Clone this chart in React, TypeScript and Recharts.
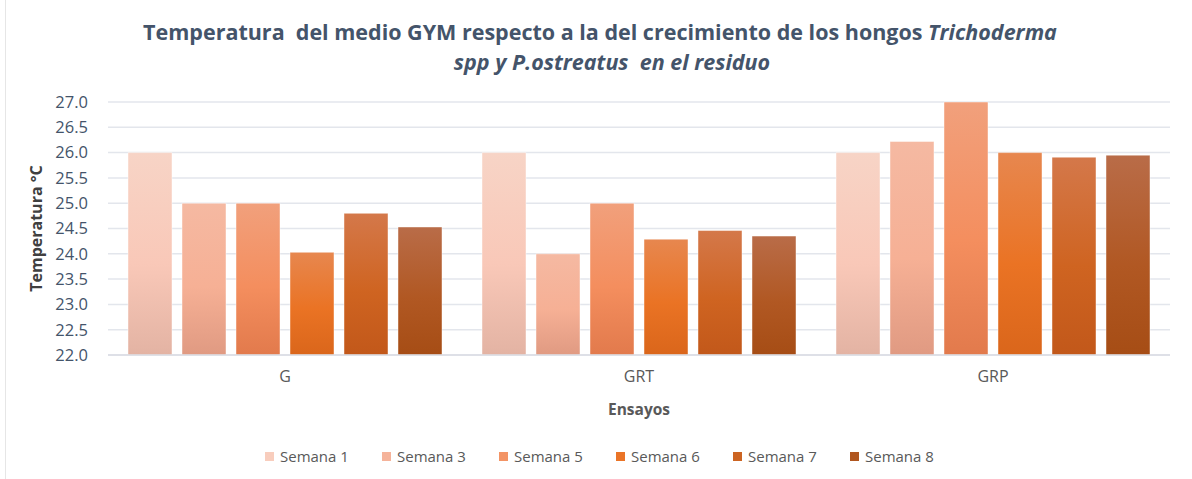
import React from 'react';
import { BarChart, Bar, XAxis, YAxis, CartesianGrid, Legend } from 'recharts';

const categories = ['G', 'GRT', 'GRP'];
const seriesNames = ['Semana 1', 'Semana 3', 'Semana 5', 'Semana 6', 'Semana 7', 'Semana 8'];
const semana1 = [26.0, 26.0, 26.0];
const semana3 = [25.0, 24.0, 26.22];
const semana5 = [25.0, 25.0, 27.0];
const semana6 = [24.03, 24.29, 26.0];
const semana7 = [24.8, 24.46, 25.91];
const semana8 = [24.53, 24.35, 25.95];
const yTicks = [22.0, 22.5, 23.0, 23.5, 24.0, 24.5, 25.0, 25.5, 26.0, 26.5, 27.0];

const seriesValues = [semana1, semana3, semana5, semana6, semana7, semana8];
const keys = ['s1', 's3', 's5', 's6', 's7', 's8'];

// gradient colours: top, middle, bottom
const gradients = [
  ['#F7D4C6', '#F9C8B8', '#E3B3A3'],
  ['#F5B9A2', '#F6B095', '#E09A82'],
  ['#F1A07C', '#F48E5E', '#E27A4C'],
  ['#E7874F', '#EA7324', '#DA661B'],
  ['#D4784A', '#CF6421', '#C2581A'],
  ['#B96C48', '#B15823', '#A64D15'],
];
const legendColors = ['#F8CDBD', '#F5B39A', '#F39465', '#EA7427', '#CC6422', '#B0561F'];

const data = categories.map((c, i) => {
  const row: any = { cat: c };
  keys.forEach((k, j) => { row[k] = seriesValues[j][i]; });
  return row;
});

const FONT = '"Open Sans", Roboto, sans-serif';

const renderLegend = () => (
  <div style={{ display: 'flex', justifyContent: 'flex-start', alignItems: 'center', height: 24, paddingLeft: 265, fontFamily: FONT, fontSize: 15, color: '#595959' }}>
    {seriesNames.map((n, i) => (
      <div key={n} style={{ display: 'flex', alignItems: 'center', width: 117, flex: 'none' }}>
        <span style={{ display: 'inline-block', width: 9, height: 9, background: legendColors[i], marginRight: 6 }} />
        <span style={{ whiteSpace: 'nowrap' }}>{n}</span>
      </div>
    ))}
  </div>
);

export default function App() {
  return (
    <div style={{ position: 'absolute', left: 0, top: 0, width: 1192, height: 479, background: '#fff', fontFamily: FONT }}>
      <div style={{ position: 'absolute', left: 5, top: 0, width: 1, height: 479, background: '#E6E6E6' }} />
      <div style={{ position: 'absolute', left: 0, top: 17, width: 1200, textAlign: 'center', fontFamily: FONT, fontWeight: 700, fontSize: 21.5, color: '#44546A', lineHeight: '30px', whiteSpace: 'nowrap' }}>
        <div>Temperatura&nbsp; del medio GYM respecto a la del crecimiento de los hongos <i>Trichoderma</i></div>
        <div style={{ paddingLeft: 24 }}><i>spp y P.ostreatus&nbsp; en el residuo</i></div>
      </div>
      <BarChart
        width={1192}
        height={479}
        data={data}
        margin={{ top: 102, right: 22, bottom: 40, left: 0 }}
        barCategoryGap={20}
        barGap={10}
        style={{ position: 'absolute', left: 0, top: 0 }}
      >
        <defs>
          {gradients.map((g, i) => (
            <linearGradient key={i} id={`grad${i}`} x1="0" y1="0" x2="0" y2="1">
              <stop offset="0%" stopColor={g[0]} />
              <stop offset="55%" stopColor={g[1]} />
              <stop offset="100%" stopColor={g[2]} />
            </linearGradient>
          ))}
        </defs>
        <CartesianGrid vertical={false} stroke="#E3E6EC" strokeWidth={1.5} />
        <XAxis
          dataKey="cat"
          height={60}
          tickLine={false}
          axisLine={{ stroke: '#DADDE3', strokeWidth: 1.5 }}
          tickMargin={10}
          tick={{ fill: '#595959', fontSize: 16, fontFamily: FONT }}
          label={{
            content: (props: any) => {
              const vb = props.viewBox || {};
              return (
                <text x={vb.x + vb.width / 2} y={vb.y + 54} textAnchor="middle" dominantBaseline="central" fill="#595959" fontWeight={700} fontSize={15.5} fontFamily={FONT}>
                  Ensayos
                </text>
              );
            },
          }}
        />
        <YAxis
          width={108}
          domain={[22, 27]}
          ticks={yTicks}
          tickFormatter={(v: number) => v.toFixed(1)}
          tickLine={false}
          axisLine={false}
          tickMargin={14}
          interval={0}
          tick={{ fill: '#44546A', fontSize: 16.5, fontFamily: FONT }}
          label={{
            content: (props: any) => {
              const vb = props.viewBox || {};
              const cx = 36;
              const cy = vb.y + vb.height / 2;
              return (
                <text x={cx} y={cy} transform={`rotate(-90 ${cx} ${cy})`} textAnchor="middle" dominantBaseline="central" fill="#404040" fontWeight={700} fontSize={16} fontFamily={FONT}>
                  Temperatura °C
                </text>
              );
            },
          }}
        />
        <Legend
          verticalAlign="bottom"
          content={renderLegend}
          wrapperStyle={{ top: 444, left: 0, width: 1192, height: 24 }}
        />
        {keys.map((k, i) => (
          <Bar
            key={k}
            dataKey={k}
            name={seriesNames[i]}
            fill={`url(#grad${i})`}
            stroke="#FFFFFF"
            strokeOpacity={0.45}
            strokeWidth={1}
            isAnimationActive={false}
          />
        ))}
      </BarChart>
    </div>
  );
}
